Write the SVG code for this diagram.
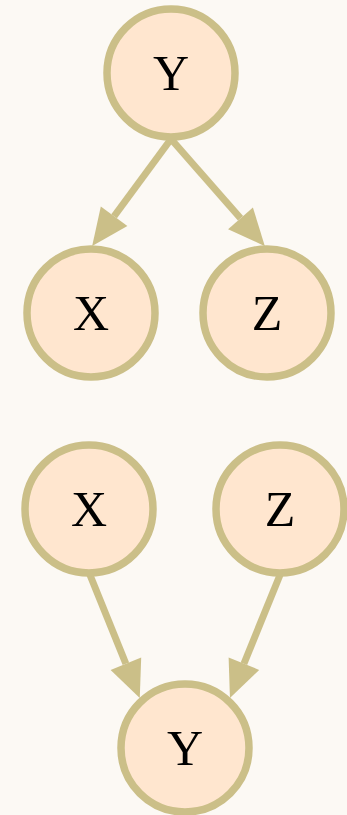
<svg xmlns="http://www.w3.org/2000/svg" width="347" height="815" viewBox="0 0 347 815">
<style>
.node circle{fill:#ffe6cf;stroke:#cbbf88;stroke-width:7.5}
.node text{font-family:"Liberation Serif","Times New Roman",serif;font-size:50px;fill:#000;text-anchor:middle}
.edge line{stroke:#cbbf88;stroke-width:7;fill:none}
</style>
<defs>
<marker id="arrow" markerUnits="userSpaceOnUse" markerWidth="40" markerHeight="36" refX="0" refY="18" orient="auto" overflow="visible">
<path d="M0,1.5 L37,18 L0,34.5 z" fill="#cbbf88"/>
</marker>
</defs>
<rect width="347" height="815" fill="#fcf9f4"/>
<g id="edges" class="edge">
<line x1="171" y1="139" x2="114.1" y2="216.3" marker-end="url(#arrow)"/>
<line x1="171" y1="139" x2="240.5" y2="218.3" marker-end="url(#arrow)"/>
<line x1="90" y1="575" x2="125.9" y2="663.8" marker-end="url(#arrow)"/>
<line x1="280" y1="575" x2="243.9" y2="663.7" marker-end="url(#arrow)"/>
</g>
<g id="node-Y1" class="node"><circle cx="171" cy="73" r="64"/><text x="171" y="90">Y</text></g>
<g id="node-X1" class="node"><circle cx="91" cy="313" r="64"/><text x="91" y="330">X</text></g>
<g id="node-Z1" class="node"><circle cx="267" cy="313" r="64"/><text x="267" y="330">Z</text></g>
<g id="node-X2" class="node"><circle cx="89" cy="509" r="64"/><text x="89" y="526">X</text></g>
<g id="node-Z2" class="node"><circle cx="280" cy="509" r="64"/><text x="280" y="526">Z</text></g>
<g id="node-Y2" class="node"><circle cx="185" cy="748" r="64"/><text x="185" y="765">Y</text></g>
</svg>
